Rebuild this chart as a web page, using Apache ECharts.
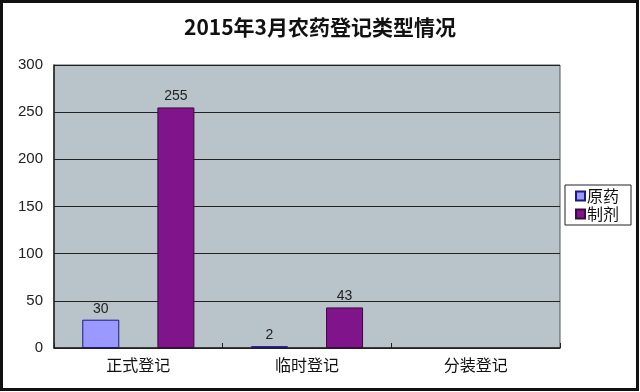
<!DOCTYPE html>
<html>
<head>
<meta charset="utf-8">
<script src="https://cdn.jsdelivr.net/npm/echarts@6/dist/echarts.min.js"></script>
<style>html,body{margin:0;padding:0;background:#fff}#c{width:640px;height:392px}</style>
</head>
<body>
<div id="c"></div>
<script>
var categories = ['正式登记', '临时登记', '分装登记'];
var seriesNames = ['原药', '制剂'];
var yuanyao = [30, 2, null];
var zhiji = [255, 43, null];
var yTicks = [0, 50, 100, 150, 200, 250, 300];

var chart = echarts.init(document.getElementById('c'), null, {renderer: 'canvas'});
var labelStyle = {show: true, position: 'top', color: '#222', fontFamily: 'Liberation Sans, Arial, sans-serif', fontSize: 14, distance: 4};
chart.setOption({
  animation: false,
  backgroundColor: '#fff',
  title: {
    text: '2015年3月农药登记类型情况',
    left: 'center', top: 12,
    textStyle: {fontFamily: 'Noto Sans CJK SC', fontWeight: 'bold', fontSize: 21, color: '#111'}
  },
  graphic: [{
    type: 'rect', shape: {x: 1.5, y: 1.5, width: 636, height: 388},
    style: {fill: 'none', stroke: '#111', lineWidth: 3}, silent: true, z: 100
  }],
  legend: {
    orient: 'vertical', right: 9, top: 185,
    data: seriesNames,
    itemWidth: 9, itemHeight: 9, itemGap: 2,
    padding: [3, 12, 3, 10],
    borderColor: '#222', borderWidth: 1, backgroundColor: '#fff',
    textStyle: {fontFamily: 'Noto Sans CJK SC', fontSize: 16, color: '#111', padding: [0, 0, 0, -3]},
    icon: 'rect'
  },
  grid: {
    left: 54, right: 80, top: 65, bottom: 44,
    show: true, backgroundColor: '#B9C3CA', borderColor: '#555', borderWidth: 1
  },
  xAxis: {
    type: 'category', data: categories,
    axisLine: {lineStyle: {color: '#222', width: 1.5}},
    axisTick: {show: true, length: 5, inside: true, lineStyle: {color: '#222'}},
    axisLabel: {fontFamily: 'Noto Sans CJK SC', fontSize: 16, color: '#111', margin: 9}
  },
  yAxis: {
    type: 'value', min: yTicks[0], max: yTicks[yTicks.length - 1], interval: 50,
    axisLine: {show: true, lineStyle: {color: '#222', width: 1.5}},
    axisTick: {show: false},
    axisLabel: {fontFamily: 'Liberation Sans, Arial, sans-serif', fontSize: 15, color: '#222', margin: 11},
    splitLine: {lineStyle: {color: '#222', width: 1}}
  },
  series: [{
    name: seriesNames[0], type: 'bar', data: yuanyao, barWidth: 37, barGap: '103%',
    itemStyle: {color: '#9999FF', borderColor: '#1a1a80', borderWidth: 1},
    label: labelStyle
  }, {
    name: seriesNames[1], type: 'bar', data: zhiji, barWidth: 37,
    itemStyle: {color: '#80148A', borderColor: '#3a0a40', borderWidth: 1},
    label: labelStyle
  }]
});
</script>
</body>
</html>
